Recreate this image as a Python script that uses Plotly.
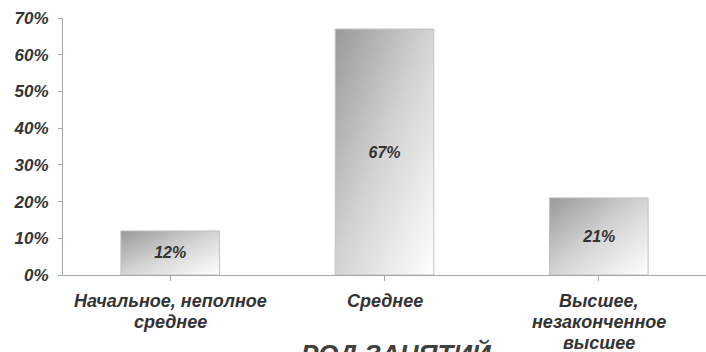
import base64
import plotly.graph_objects as go

# Education level shares
categories = ["Начальное, неполное<br>среднее", "Среднее", "Высшее,<br>незаконченное<br>высшее"]
shares = [0.12, 0.67, 0.21]
bar_labels = ["12%", "67%", "21%"]
y_ticks = [0, 0.1, 0.2, 0.3, 0.4, 0.5, 0.6, 0.7]
title_text = "РОД ЗАНЯТИЙ"

BAR_WIDTH = 0.46
FONT = "Liberation Sans, Arial, sans-serif"
TEXT_COLOR = "#333333"
LABEL_LINE_GAP = 21  # px between stacked category label lines

# Diagonal grey-to-white fill used behind each bar
svg = (
    '<svg xmlns="http://www.w3.org/2000/svg" width="100" height="100" '
    'viewBox="0 0 100 100" preserveAspectRatio="none">'
    '<defs><linearGradient id="g" x1="0" y1="0" x2="1" y2="1">'
    '<stop offset="0" stop-color="#999999"/>'
    '<stop offset="0.5" stop-color="#d4d4d4"/>'
    '<stop offset="1" stop-color="#ffffff"/>'
    '</linearGradient></defs>'
    '<rect x="0" y="0" width="100" height="100" fill="url(#g)"/></svg>'
)
gradient_src = "data:image/svg+xml;base64," + base64.b64encode(svg.encode()).decode()

fig = go.Figure(
    go.Bar(
        x=list(range(len(categories))),
        y=shares,
        width=BAR_WIDTH,
        marker=dict(color="rgba(0,0,0,0)", line=dict(color="#c2c2c2", width=1)),
        text=bar_labels,
        textposition="inside",
        insidetextanchor="middle",
        constraintext="none",
        textfont=dict(family=FONT, size=16, color=TEXT_COLOR, weight="bold", style="italic"),
        hoverinfo="skip",
    )
)

images = []
for i, v in enumerate(shares):
    images.append(
        dict(
            source=gradient_src,
            xref="x", yref="y",
            x=i - BAR_WIDTH / 2, y=v,
            sizex=BAR_WIDTH, sizey=v,
            xanchor="left", yanchor="top",
            sizing="stretch",
            layer="below",
        )
    )

tick_font = dict(family=FONT, size=17, color=TEXT_COLOR, weight="bold", style="italic")
cat_font = dict(family=FONT, size=18, color=TEXT_COLOR, weight="bold", style="italic")

# Category labels, one annotation per line for tighter line spacing
annotations = []
for i, label in enumerate(categories):
    for k, line in enumerate(label.split("<br>")):
        annotations.append(
            dict(
                text=line,
                xref="x", yref="paper",
                x=i, y=0,
                xanchor="center", yanchor="middle",
                yshift=-26 - k * LABEL_LINE_GAP,
                showarrow=False,
                font=cat_font,
            )
        )

annotations.append(
    dict(
        text=title_text,
        xref="paper", yref="paper",
        x=0.519, y=-0.255,
        xanchor="center", yanchor="top",
        yshift=4,
        showarrow=False,
        font=dict(family=FONT, size=26, color="#404040", weight="bold", style="italic"),
    )
)

fig.update_layout(
    width=706, height=352,
    margin=dict(l=63, r=0, t=18, b=77),
    paper_bgcolor="white",
    plot_bgcolor="white",
    showlegend=False,
    images=images,
    xaxis=dict(
        range=[-0.5, len(categories) - 0.5],
        tickmode="array",
        tickvals=list(range(len(categories))),
        ticktext=[""] * len(categories),
        tickson="boundaries",
        ticks="outside",
        ticklen=5,
        tickcolor="#a6a6a6",
        showline=True,
        linecolor="#a6a6a6",
        linewidth=1,
        showgrid=False,
        zeroline=False,
        fixedrange=True,
    ),
    yaxis=dict(
        range=[0, 0.7],
        tickvals=y_ticks,
        tickformat=".0%",
        ticks="outside",
        ticklen=4,
        tickcolor="#a6a6a6",
        showline=True,
        linecolor="#a6a6a6",
        linewidth=1,
        showgrid=False,
        zeroline=False,
        tickfont=tick_font,
        ticklabelstandoff=6,
        fixedrange=True,
    ),
    annotations=annotations,
)

fig.write_html("out.html", config={"displayModeBar": False})
